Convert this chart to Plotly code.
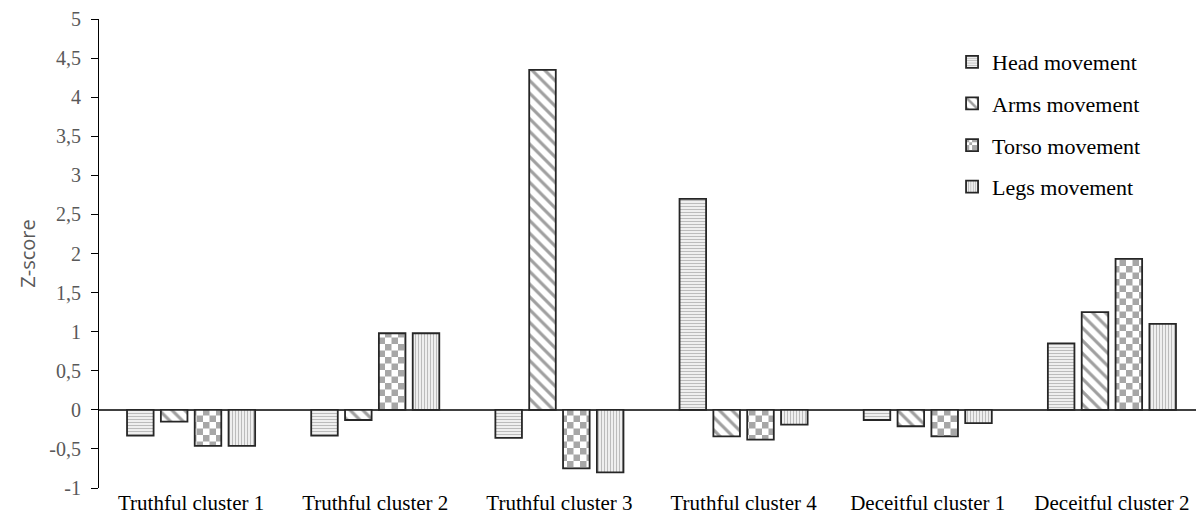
import plotly.graph_objects as go

categories = ["Truthful cluster 1", "Truthful cluster 2", "Truthful cluster 3",
              "Truthful cluster 4", "Deceitful cluster 1", "Deceitful cluster 2"]
head = [-0.33, -0.33, -0.36, 2.70, -0.13, 0.85]
arms = [-0.15, -0.13, 4.35, -0.34, -0.21, 1.25]
torso = [-0.46, 0.98, -0.75, -0.38, -0.34, 1.93]
legs = [-0.46, 0.98, -0.80, -0.19, -0.17, 1.10]

y_ticks = [-1, -0.5, 0, 0.5, 1, 1.5, 2, 2.5, 3, 3.5, 4, 4.5, 5]
y_tick_text = ["-1", "-0,5", "0", "0,5", "1", "1,5", "2", "2,5", "3", "3,5", "4", "4,5", "5"]

EDGE = "#262626"
checker = "M0,0H6.5V6.5H0Z M6.5,6.5H13V13H6.5Z"

series = [
    ("Head movement", head, dict(shape="-", size=3, solidity=0.5, fgcolor="#7a7a7a")),
    ("Arms movement", arms, dict(shape="\\", size=9, solidity=0.35, fgcolor="#404040")),
    ("Torso movement", torso, dict(path=checker, size=13, solidity=0.5, fgcolor="#505050")),
    ("Legs movement", legs, dict(shape="|", size=3, solidity=0.5, fgcolor="#7a7a7a")),
]

fig = go.Figure()
for i, (name, vals, pat) in enumerate(series):
    fig.add_trace(go.Bar(
        x=categories, y=vals, name=name, legendgroup=name,
        marker=dict(color="white", line=dict(color=EDGE, width=1.8),
                    pattern=dict(bgcolor="white", fillmode="overlay", **pat)),
    ))

fig.update_layout(
    width=1196, height=520,
    margin=dict(l=91, r=0, t=9, b=40),
    paper_bgcolor="white", plot_bgcolor="white",
    barmode="group", bargap=0.265, bargroupgap=0.215,
    font=dict(family="Liberation Serif", color="#000000"),
    legend=dict(x=0.772, y=0.953, xanchor="left", yanchor="top",
                font=dict(family="Liberation Serif", size=22, color="#000000"),
                tracegroupgap=10, bgcolor="rgba(0,0,0,0)", itemwidth=30),
    showlegend=True,
)
fig.update_yaxes(
    range=[-1, 5], tickvals=y_ticks, ticktext=y_tick_text,
    showgrid=False, zeroline=True, zerolinecolor="#404040", zerolinewidth=1.5,
    showline=True, linecolor="#000000", linewidth=1.2,
    ticks="outside", ticklen=7, tickcolor="#000000", tickwidth=1.2,
    tickfont=dict(family="Liberation Serif", size=20, color="#595959"),
    ticklabelstandoff=6, ticklabeloverflow="allow",
    title=dict(text="Z-score", font=dict(family="Open Sans", size=20, color="#595959"), standoff=8),
)
fig.update_xaxes(
    showgrid=False, showline=False, ticks="",
    tickfont=dict(family="Liberation Serif", size=21, color="#000000"),
    range=[-0.5, 5.5],
)
fig.write_html("out.html")
